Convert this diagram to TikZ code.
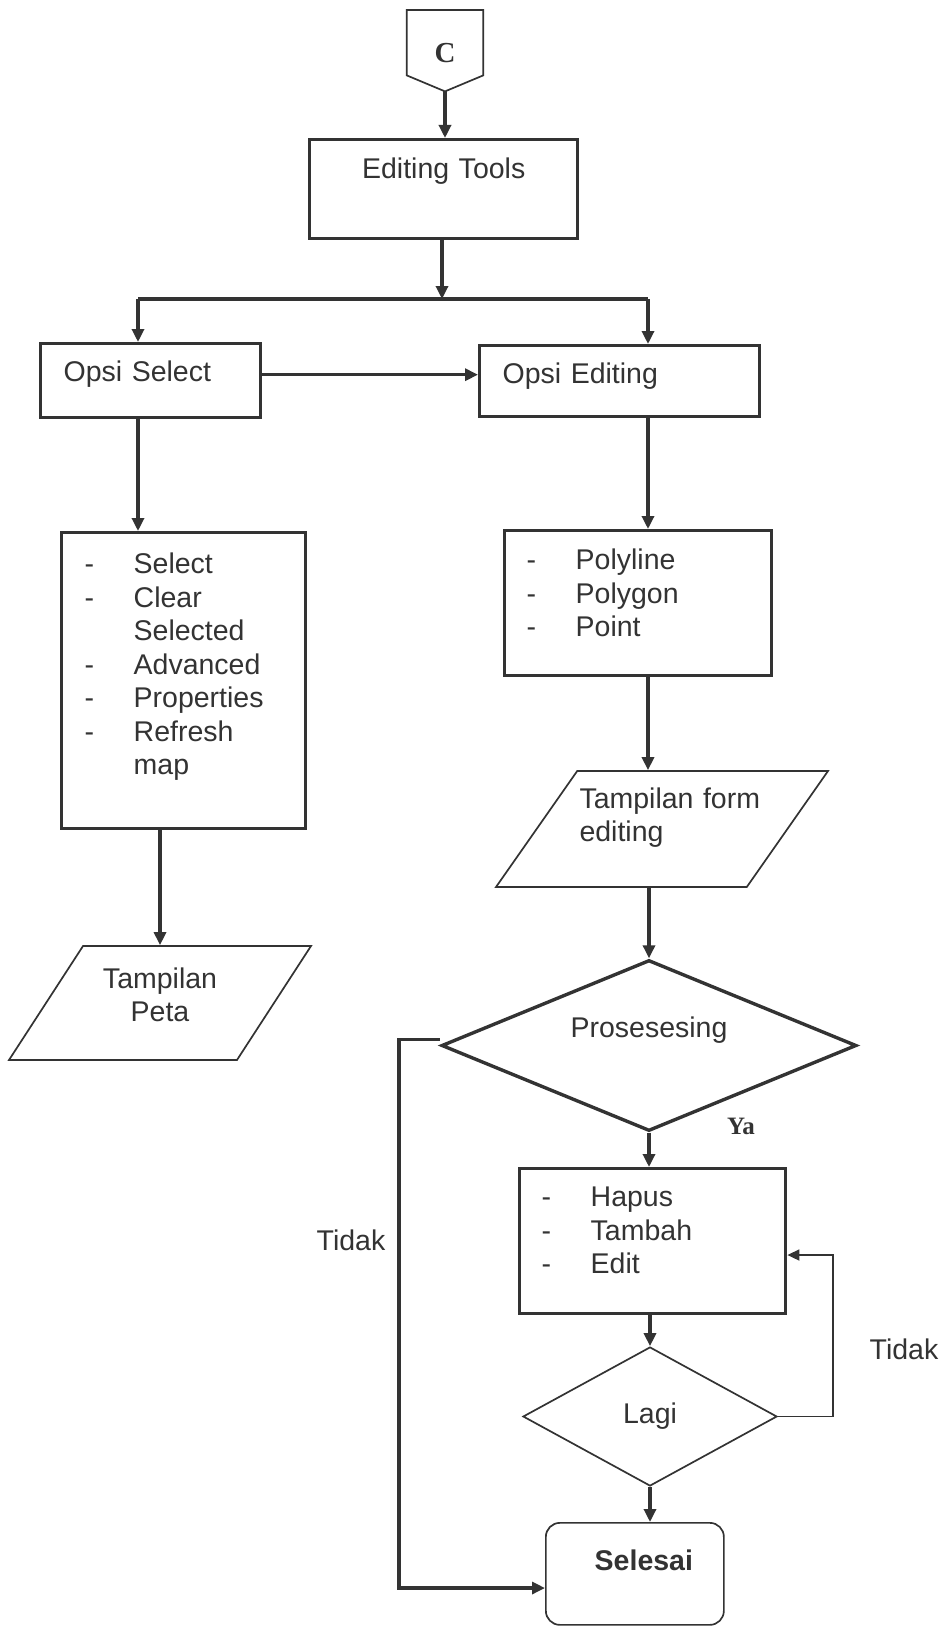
\documentclass[tikz,border=0pt]{standalone}
\usepackage{fontspec}
\setmainfont{Liberation Sans}
\newfontfamily\tnr{Liberation Serif}
\usepackage{tikz}
\usetikzlibrary{shapes.geometric, arrows.meta, calc}
\definecolor{garis}{HTML}{333333}
\newcommand{\itm}[1]{\makebox[49pt][l]{#1}}

\begin{document}
\begin{tikzpicture}[x=1pt, y=-1pt,
  every node/.style={font=\fontsize{28.5}{33.5}\selectfont, text=garis},
  box/.style={draw=garis, line width=3.4pt, inner sep=0pt, anchor=north west},
  io/.style={trapezium, trapezium stretches body, draw=garis, line width=1.7pt, inner sep=0pt},
  dec/.style={diamond, draw=garis, inner sep=0pt},
  arr/.style={-{Triangle[length=13pt, width=12pt]}, line width=3.2pt, garis},
  arrthin/.style={-{Triangle[length=12pt, width=11pt]}, line width=1.7pt, garis}
]
  \useasboundingbox (0,0) rectangle (948,1627);

  % konektor halaman
  \node[minimum width=76pt, inner sep=0pt, anchor=north, text height=52pt, text depth=13pt,
        font=\tnr\bfseries\fontsize{29}{29}\selectfont] (c) at (445,10) {C};
  \draw[garis, line width=1.7pt] (c.north west) -- (c.south west)
    -- ([yshift=-16pt]c.south) coordinate (ctip) -- (c.south east) -- (c.north east) -- cycle;

  \node[box, text width=268pt, align=center, text height=39pt, text depth=60pt] (tools) at (308,138) {Editing Tools};

  \coordinate (cabang) at (442,299);
  \coordinate (kiri) at (138,299);
  \coordinate (kanan) at (648,299);

  \node[box, inner xsep=23pt, text width=174pt, align=left, text height=38pt, text depth=36pt] (opsisel) at (39,342) {Opsi Select};
  \node[box, inner xsep=23pt, text width=234pt, align=left, text height=38pt, text depth=33pt] (opsiedit) at (478,344) {Opsi Editing};

  \node[box, inner xsep=23pt, text width=198pt, align=left, text height=41pt, text depth=255pt] (listsel) at (60,531)
    {\itm{-}Select\\ \itm{-}Clear\\ \itm{}Selected\\ \itm{-}Advanced\\ \itm{-}Properties\\ \itm{-}Refresh\\ \itm{}map};
  \node[box, inner xsep=22pt, text width=223pt, align=left, text height=39pt, text depth=106pt] (listedit) at (503,529)
    {\itm{-}Polyline\\ \itm{-}Polygon\\ \itm{-}Point};

  \node[io, trapezium left angle=55, trapezium right angle=125, minimum width=332pt, minimum height=116pt,
        text width=165pt, align=left, text height=37pt, text depth=79pt] (tform) at (662,829)
    {\makebox[165pt][l]{Tampilan form}\\ editing};
  \node[io, trapezium left angle=57, trapezium right angle=123, minimum width=302pt, minimum height=114pt,
        text width=150pt, align=center, text height=42pt, text depth=72pt] (peta) at (160,1003) {Tampilan\\ Peta};

  \node[dec, line width=3.4pt, aspect=2.4, minimum width=415pt, minimum height=171pt,
        text height=20pt, text depth=37pt] (proses) at (649,1045.5) {Prosesesing};

  \node[box, inner xsep=22pt, text width=222pt, align=left, text height=38pt, text depth=107pt] (hapus) at (518,1167)
    {\itm{-}Hapus\\ \itm{-}Tambah\\ \itm{-}Edit};

  \node[dec, line width=1.7pt, aspect=1.8, minimum width=254pt, minimum height=139pt] (lagi) at (650,1416.5) {Lagi};

  \node[box, line width=1.7pt, rounded corners=14pt, text width=178pt, align=center, text height=48pt, text depth=54pt,
        font=\bfseries\fontsize{28.5}{33.5}\selectfont] (selesai) at (545,1522) {\hspace*{18pt}Selesai};

  % label
  \node[font=\tnr\bfseries\fontsize{25}{25}\selectfont] (ya) at (741,1126) {Ya};
  \node (tidak1) at (351,1240) {Tidak};
  \node (tidak2) at (904,1349) {Tidak};

  \coordinate (balik) at (833,1255);
  \coordinate (putar) at (399,1588);

  % panah
  \draw[arr] (ctip) -- (ctip |- tools.north);
  \draw[arr] (tools.south -| cabang) -- (cabang);
  \draw[garis, line width=3.2pt] (kiri) -- (kanan);
  \draw[arr] (kiri) -- (kiri |- opsisel.north);
  \draw[arr] (kanan) -- (kanan |- opsiedit.north);
  \draw[arr] ([yshift=6pt]opsisel.east) -- ([yshift=6pt]opsisel.east -| opsiedit.west);
  \draw[arr] (kiri |- opsisel.south) -- (kiri |- listsel.north);
  \draw[arr] (kanan |- opsiedit.south) -- (kanan |- listedit.north);
  \draw[arr] (peta.north |- listsel.south) -- (peta.north);
  \draw[arr] (kanan |- listedit.south) -- (kanan |- tform.north);
  \draw[arr] (proses.north |- tform.south) -- (proses.north);
  \draw[arr] (proses.south) -- (proses.south |- hapus.north);
  \draw[arr] (lagi.north |- hapus.south) -- (lagi.north);
  \draw[arr] (lagi.south) -- (lagi.south |- selesai.north);
  \draw[arrthin] (lagi.east) -| (balik) -- (balik -| hapus.east);
  \draw[arr] ([yshift=6pt]proses.west) -| (putar) -- (putar -| selesai.west);
\end{tikzpicture}
\end{document}
